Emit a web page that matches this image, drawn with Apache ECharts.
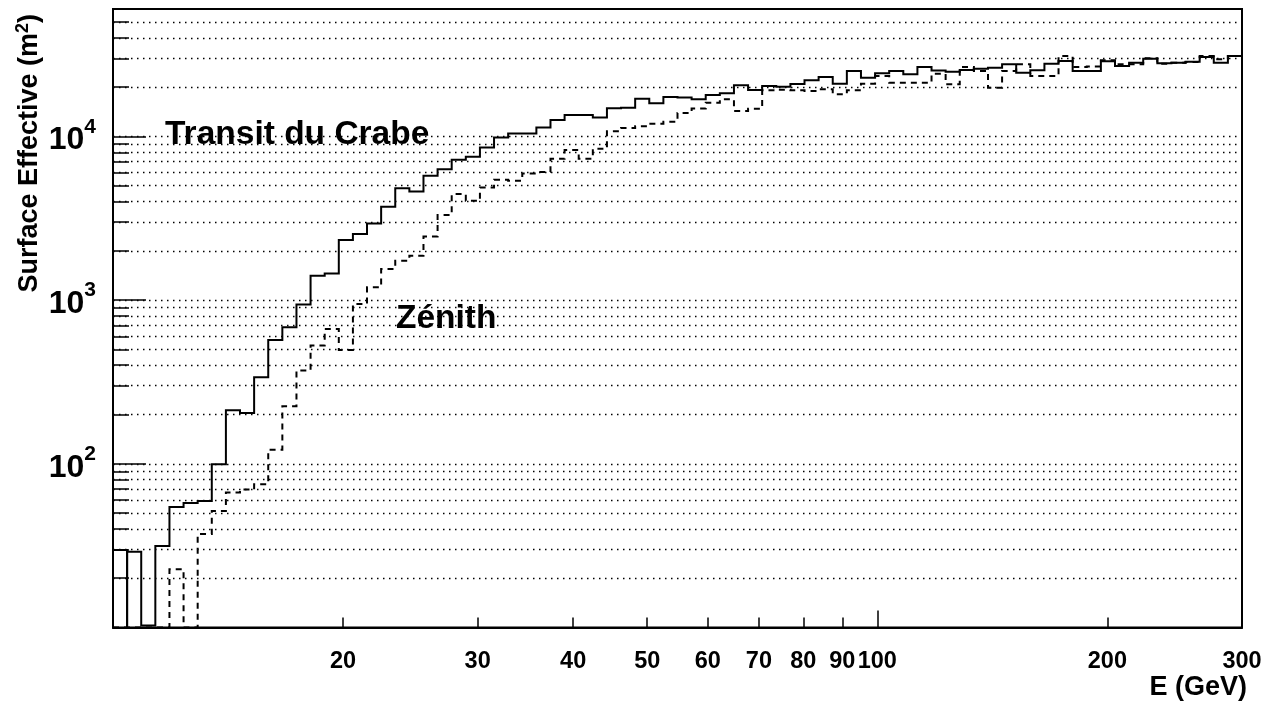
<!DOCTYPE html>
<html>
<head>
<meta charset="utf-8">
<script src="https://cdn.jsdelivr.net/npm/echarts@6/dist/echarts.min.js"></script>
<style>
  html, body { margin: 0; padding: 0; background: #fff; }
  #chart { width: 1281px; height: 705px; }
</style>
</head>
<body>
<div id="chart"></div>
<script>
// Energy axis (GeV) and histogram binning: 80 log-spaced bins from 10 to 300 GeV
const E_MIN = 10;
const E_MAX = 300;
const N_BINS = 80;

// Effective area axis (m^2)
const A_MIN = 10;
const A_MAX = 60000;

// Tick values
const xTickValues = [20, 30, 40, 50, 60, 70, 80, 90, 100, 200, 300];
const xLongTicks = [100];
const yGridValues = [20, 30, 40, 50, 60, 70, 80, 90, 100,
                     200, 300, 400, 500, 600, 700, 800, 900, 1000,
                     2000, 3000, 4000, 5000, 6000, 7000, 8000, 9000, 10000,
                     20000, 30000, 40000, 50000];
const yDecades = [100, 1000, 10000];

// Effective area per bin, Crab transit (solid)
const transitValues = [
  29.7, 29.0, 10.3, 31.5, 54.5, 57.7, 59.3, 99.3, 212, 204,
  338, 571, 683, 939, 1409, 1455, 2328, 2533, 2940, 3715,
  4830, 4605, 5740, 6305, 7190, 7500, 8550, 9830, 10400, 10400,
  11320, 12600, 13520, 13520, 13020, 14860, 14980, 17000, 15940, 17400,
  17300, 16860, 17900, 18340, 20500, 19200, 20300, 20120, 20900, 22000,
  23060, 21000, 25080, 22830, 24290, 25080, 23950, 26530, 25300, 24840,
  25440, 25910, 26270, 27560, 24490, 25330, 27790, 28870, 25080, 25080,
  28800, 26920, 28180, 29810, 28000, 28180, 28580, 30530, 28180, 30970
];

// Effective area per bin, zenith (dashed); 0 = empty bin
const zenithValues = [
  0, 0, 0, 0, 22.7, 0, 37.2, 51.5, 66.7, 69.6,
  75.0, 122, 225, 372, 528, 667, 495, 948, 1197, 1549,
  1741, 1867, 2448, 3307, 4442, 4044, 4875, 5430, 5355, 5934,
  6050, 7290, 8260, 7300, 8400, 10750, 11270, 11530, 11950, 12300,
  13900, 14800, 16070, 16860, 14300, 14770, 19130, 19300, 19130, 18940,
  19400, 18080, 19130, 20990, 23380, 21280, 21280, 21280, 24150, 20810,
  26530, 25080, 19840, 25080, 27560, 23380, 23380, 30970, 26530, 26700,
  29150, 27560, 27560, 29980, 27790, 28180, 28460, 30970, 29560, 30970
];

// Bin pieces drawn as separate outlines: [first bin, end bin)
const transitPieces = [[0, 1], [1, 80]];
const zenithPieces = [[0, 80]];

const binEdges = [];
for (let i = 0; i <= N_BINS; i++) {
  binEdges.push(E_MIN * Math.pow(E_MAX / E_MIN, i / N_BINS));
}

const FONT = '"Liberation Sans", Arial, Helvetica, sans-serif';

function histogramSeries(name, values, pieces, dash) {
  return {
    type: 'custom',
    name: name,
    coordinateSystem: 'cartesian2d',
    xAxisIndex: 0,
    yAxisIndex: 0,
    silent: true,
    clip: true,
    z: 5,
    data: pieces.map(p => [binEdges[p[0]], A_MAX]),
    renderItem: function (params, api) {
      const piece = pieces[params.dataIndex];
      const floorY = api.coord([E_MIN, A_MIN])[1];
      const yOf = v => (v > A_MIN ? api.coord([E_MIN, v])[1] : floorY);
      const xOf = e => api.coord([e, A_MIN])[0];
      const pts = [[xOf(binEdges[piece[0]]), floorY]];
      for (let i = piece[0]; i < piece[1]; i++) {
        const y = yOf(values[i]);
        pts.push([xOf(binEdges[i]), y], [xOf(binEdges[i + 1]), y]);
      }
      pts.push([xOf(binEdges[piece[1]]), floorY]);
      return {
        type: 'polyline',
        shape: { points: pts },
        style: {
          stroke: '#000',
          lineWidth: 2,
          fill: null,
          lineDash: dash,
          lineJoin: 'miter',
          lineCap: 'butt'
        }
      };
    }
  };
}

const chart = echarts.init(document.getElementById('chart'), null, { renderer: 'canvas' });

chart.setOption({
  animation: false,
  backgroundColor: '#fff',
  grid: {
    left: 113,
    right: 39,
    top: 9,
    bottom: 77.5,
    show: true,
    borderColor: '#000',
    borderWidth: 2,
    backgroundColor: 'transparent'
  },
  xAxis: [
    {
      type: 'log',
      logBase: 10,
      min: E_MIN,
      max: E_MAX,
      position: 'bottom',
      axisLine: { show: true, lineStyle: { color: '#000', width: 2 } },
      axisTick: {
        show: true,
        inside: true,
        length: 10,
        customValues: xTickValues.filter(v => xLongTicks.indexOf(v) < 0),
        lineStyle: { color: '#000', width: 1.5 }
      },
      axisLabel: {
        show: true,
        customValues: xTickValues,
        color: '#000',
        fontFamily: FONT,
        fontWeight: 'bold',
        fontSize: 23.5,
        margin: 22,
        formatter: v => String(Math.round(v))
      },
      splitLine: { show: false }
    },
    {
      type: 'log',
      logBase: 10,
      min: E_MIN,
      max: E_MAX,
      position: 'bottom',
      axisLine: { show: false },
      axisTick: {
        show: true,
        inside: true,
        length: 17,
        customValues: xLongTicks,
        lineStyle: { color: '#000', width: 1.5 }
      },
      axisLabel: { show: false },
      splitLine: { show: false }
    }
  ],
  yAxis: [
    {
      type: 'log',
      logBase: 10,
      min: A_MIN,
      max: A_MAX,
      position: 'left',
      axisLine: { show: true, lineStyle: { color: '#000', width: 2 } },
      axisTick: {
        show: true,
        inside: true,
        length: 16,
        customValues: yGridValues,
        lineStyle: { color: '#000', width: 1.5 }
      },
      axisLabel: { show: false, customValues: yGridValues },
      splitLine: {
        show: true,
        lineStyle: { color: '#000', width: 1.3, type: [1.5, 4.5] }
      }
    },
    {
      type: 'log',
      logBase: 10,
      min: A_MIN,
      max: A_MAX,
      position: 'left',
      axisLine: { show: false },
      axisTick: {
        show: true,
        inside: true,
        length: 33,
        customValues: yDecades,
        lineStyle: { color: '#000', width: 1.5 }
      },
      axisLabel: {
        show: true,
        customValues: yDecades,
        margin: 17,
        formatter: v => '{b|10}{e|' + Math.round(Math.log10(v)) + '}',
        rich: {
          b: { fontFamily: FONT, fontWeight: 'bold', fontSize: 32, color: '#000', lineHeight: 40, padding: [8, 0, 0, 0] },
          e: { fontFamily: FONT, fontWeight: 'bold', fontSize: 21, color: '#000', verticalAlign: 'top', lineHeight: 22 }
        }
      },
      splitLine: { show: false }
    }
  ],
  graphic: [
    {
      type: 'text',
      x: 30,
      y: 14,
      rotation: Math.PI / 2,
      style: {
        text: '{t|Surface Effective (m}{s|2}{t|)}',
        align: 'right',
        verticalAlign: 'middle',
        rich: {
          t: { fontFamily: FONT, fontWeight: 'bold', fontSize: 27, fill: '#000', lineHeight: 32 },
          s: { fontFamily: FONT, fontWeight: 'bold', fontSize: 18, fill: '#000', verticalAlign: 'top', lineHeight: 18 }
        }
      }
    },
    {
      type: 'text',
      x: 1247,
      y: 688,
      style: {
        text: 'E (GeV)',
        align: 'right',
        verticalAlign: 'middle',
        fontFamily: FONT,
        fontWeight: 'bold',
        fontSize: 27,
        fill: '#000'
      }
    },
    {
      type: 'text',
      x: 165,
      y: 135,
      z: 10,
      style: {
        text: 'Transit du Crabe',
        align: 'left',
        verticalAlign: 'middle',
        fontFamily: FONT,
        fontWeight: 'bold',
        fontSize: 33.5,
        fill: '#000'
      }
    },
    {
      type: 'text',
      x: 396,
      y: 319,
      z: 10,
      style: {
        text: 'Zénith',
        align: 'left',
        verticalAlign: 'middle',
        fontFamily: FONT,
        fontWeight: 'bold',
        fontSize: 33.5,
        fill: '#000'
      }
    }
  ],
  series: [
    histogramSeries('Transit du Crabe', transitValues, transitPieces, null),
    histogramSeries('Zénith', zenithValues, zenithPieces, [6, 5])
  ]
});
</script>
</body>
</html>
